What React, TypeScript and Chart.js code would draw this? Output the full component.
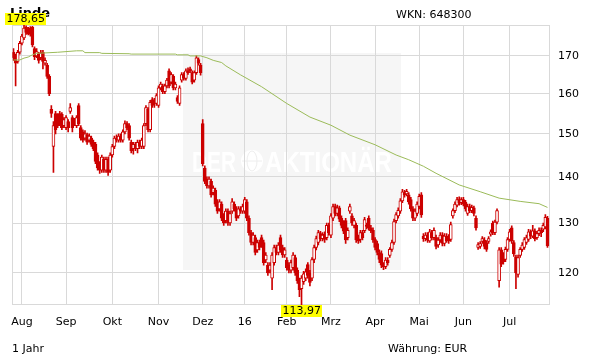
import React, { useEffect, useRef } from "react";
import { Chart, registerables } from "chart.js";
Chart.register(...registerables);

// Daily candles, Linde, late Jul 2015 - late Jul 2016 (index = trading day)
const opens = [
  171, 170, 168.5, 171, 173.5, 175, 178, 177.5, 177.8, 178,
  172, 170, 170.5, 169.5, 171, 168, 167.5, 164.5, 156, 147,
  155, 154.5, 155, 154.8, 152, 151.5, 153, 155.5, 154, 153,
  152, 157, 151.5, 150.5, 149, 149.8, 148.5, 149, 148, 147.5,
  145, 143, 141.5, 144, 141.5, 144, 141.5, 145, 147, 149,
  148.5, 149.5, 148.5, 150.5, 152.5, 152, 148, 146.5, 147.5, 146.5,
  148, 147, 147, 152.5, 156, 151, 158.5, 158, 157.5, 157,
  161.5, 162, 160.5, 162, 166, 163, 164.5, 161.5, 159, 157.5,
  163.5, 165, 164, 166, 166.5, 165.5, 163.5, 165.5, 169, 167.5,
  152.5, 142, 139.5, 138, 139, 136.5, 137, 134.5, 133, 134,
  131.5, 130.5, 132.5, 130, 132.5, 134, 133, 131.5, 133, 132.5,
  132.5, 134.5, 131, 128, 126, 127, 124.5, 126, 127, 126,
  122.5, 121.5, 120.5, 119, 122, 125, 124, 127, 125, 123.5,
  122.5, 121.5, 120.5, 121, 123, 120.5, 118.5, 117, 118.3, 119,
  121.6, 120, 119, 122.6, 125, 126, 127.8, 126.8, 127.7, 127,
  129.5, 127.5, 131, 133.5, 132, 133.2, 131, 130, 130.5, 127,
  132.5, 131.5, 129.5, 129.5, 127, 126.6, 128, 128.4, 129.5, 131,
  129, 128.5, 126.6, 125.8, 124, 123.8, 121.5, 121.2, 122.5, 123.4,
  124.6, 126, 130.5, 131.5, 132.5, 134.7, 136.5, 136.2, 136, 135,
  133, 131, 132, 133.5, 136, 127.3, 126.8, 127.5, 126.3, 128,
  127, 127, 125.5, 126.5, 127.5, 125.8, 127.3, 127.2, 126.6, 131.5,
  132.6, 133.8, 135, 134.3, 135, 134.4, 132, 133.5, 132.6, 133.2,
  131, 125, 125.2, 126.2, 126.5, 126, 126.2, 127.7, 130, 128,
  130.2, 118.5, 124.5, 123.5, 122.6, 124.6, 126.6, 129, 126, 123.1,
  119.7, 123.4, 124.6, 125, 126, 126.6, 128.2, 127.3, 128.4, 127,
  127.8, 128.5, 128.7, 129.2, 131,
];

const closes = [
  169.5, 168, 171, 173.5, 175.5, 177.8, 176.5, 176.2, 176, 173,
  169.8, 171.2, 168.8, 170.8, 168.5, 168.8, 164.5, 160, 155, 152,
  151, 152, 152.5, 151.5, 153.5, 154, 151.5, 156.5, 151.5, 152.5,
  154, 152.5, 149, 148.5, 150, 148, 149.5, 147.5, 146.5, 143.5,
  142, 141.5, 144.5, 141.5, 144, 141, 145, 147, 149, 148.5,
  149.5, 148.5, 150.5, 152.5, 151.5, 149, 146, 147.5, 146.5, 148,
  147, 148.5, 152, 156.5, 151, 157.8, 157, 157.5, 159.5, 161.5,
  162.5, 160.5, 162, 163.5, 162, 165, 161.5, 162.5, 158, 161.5,
  165, 164, 166, 165.5, 166, 163, 165.5, 169.5, 168, 165.5,
  143, 139, 138, 139.5, 136, 137.5, 134, 132.5, 134.5, 131,
  130, 132.5, 130, 132, 134.5, 133, 131, 133, 132.5, 133.5,
  135, 131, 128, 126, 127.5, 124, 126, 125, 125.5, 122,
  123.5, 120, 121.5, 123.5, 125, 124, 125.5, 124.5, 123.5, 124.5,
  121, 120.5, 122, 123.5, 120, 118.5, 116.8, 119, 119.8, 120.2,
  119.5, 118.2, 122.6, 125, 126.8, 128, 126.8, 127.5, 126.6, 129.5,
  128, 131.5, 133.5, 132, 133.2, 130.8, 129.5, 128.3, 126.5, 128.5,
  133.5, 130, 130.5, 126.5, 126.3, 128, 127, 130.7, 129.3, 129,
  128.4, 126.5, 125, 124, 122.6, 121.5, 121.2, 122.5, 122, 124.6,
  126, 130.3, 131.8, 132.7, 134.7, 136.7, 136, 136.8, 134.5, 133,
  131, 132.5, 134, 135.7, 131.7, 126.8, 127.5, 126.5, 128.2, 127,
  128.5, 125.2, 126.5, 127.5, 125.8, 127.3, 126.3, 126.3, 129.7, 132.6,
  134, 135, 134.2, 135, 134, 133, 133.5, 132.6, 133.3, 132,
  129, 125.6, 125.8, 126.8, 125.2, 124.6, 126.8, 128.2, 128, 130.2,
  132.6, 124.5, 121.7, 122.2, 124.6, 126.6, 128.2, 126.3, 123.7, 120,
  123, 124.6, 125.5, 126.6, 127, 128.2, 127.3, 128.4, 126.8, 127.8,
  128.5, 128, 129.5, 131.2, 125.3,
];

const highs = [
  172, 170.5, 171.5, 174, 176, 178.65, 178.4, 178, 178.2, 178.3,
  172.5, 172, 171, 171.5, 171.5, 169.5, 168, 165, 157, 153,
  155.5, 155, 155.5, 155.2, 154, 154.5, 153.5, 157.5, 154.5, 153.8,
  154.5, 157.5, 152, 151, 150.8, 150.2, 150, 149.5, 148.5, 148,
  145.5, 143.5, 145, 144.5, 144.5, 144.5, 145.5, 147.5, 149.5, 149.8,
  150, 150, 151, 153.2, 153, 152.5, 148.5, 148, 148, 148.5,
  148.5, 149, 152.5, 157, 156.5, 158.3, 159, 158.8, 160, 162,
  163, 162.5, 162.5, 164, 166.5, 165.5, 165, 163, 159.5, 162,
  165.5, 165.5, 166.5, 166.8, 167, 166, 166, 170, 169.5, 168,
  153.5, 142.5, 140, 140, 139.5, 138, 137.5, 135, 135, 134.5,
  132, 133, 133, 132.5, 135.2, 134.5, 133.5, 133.5, 133.5, 134,
  135.5, 135, 131.5, 128.5, 128, 127.5, 126.5, 126.5, 127.5, 126.5,
  124, 122, 122, 124, 125.5, 125.5, 126, 127.5, 125.5, 125,
  123, 122, 122.5, 124, 123.5, 121, 119, 119.5, 120.3, 120.8,
  122, 120.5, 123, 125.5, 127.3, 128.5, 128.3, 128, 128.2, 130,
  130, 132, 134, 134, 133.8, 133.6, 131.5, 130.5, 131, 129,
  134, 132, 131, 130, 127.5, 128.5, 128.5, 131.2, 130, 131.5,
  129.5, 129, 127, 126.3, 124.5, 124.3, 122, 123, 123, 125,
  126.5, 130.8, 132.2, 133.2, 135.2, 137.2, 137, 137.2, 136.5, 135.5,
  133.5, 133, 134.5, 136.2, 136.5, 127.8, 128, 128, 128.7, 128.5,
  129, 127.5, 127, 128, 128, 127.8, 127.8, 127.6, 130.2, 133,
  134.5, 135.5, 135.6, 135.4, 135.5, 134.8, 134, 134, 133.8, 133.6,
  131.5, 126, 126.2, 127.2, 127, 126.4, 127.2, 128.6, 130.4, 130.6,
  133, 125, 125, 124, 125.1, 127, 128.7, 129.4, 126.4, 123.5,
  123.5, 125, 126, 127, 127.5, 128.7, 128.6, 129.5, 128.8, 128.3,
  129, 129, 130, 131.8, 131.4,
];

const lows = [
  168.8, 162, 168, 170.5, 173, 174.5, 176, 175.8, 175.5, 172.5,
  169, 169.5, 168, 169, 166.5, 167.5, 164, 159.5, 154, 141,
  150, 151.5, 152, 151, 151.5, 151, 150.5, 155, 150.5, 152,
  151.5, 152, 148.5, 148, 148.5, 147.5, 148, 147, 146, 143,
  141.5, 140.8, 141, 141, 141, 140.3, 141, 144.5, 146.5, 148,
  148, 148, 148, 150, 151, 148.5, 145.5, 145.2, 146, 145.5,
  146.5, 146.5, 146.5, 152, 150.5, 150.5, 156.5, 156.5, 157, 156.5,
  161, 160, 160, 161.5, 161.5, 162.5, 161, 161, 157.5, 157,
  163, 163.5, 163.5, 165, 165.5, 162.5, 163, 165, 167.5, 164.8,
  142.5, 138.5, 137.5, 137.5, 135.5, 136, 133.5, 132, 132.5, 130.5,
  129.5, 130, 129.5, 129.5, 132, 132.5, 130.5, 131, 132, 132,
  132, 130.5, 127.5, 125.5, 125.5, 123.5, 124, 124.5, 125, 121.5,
  122, 119.5, 120, 116.8, 121.5, 123.5, 123.5, 124, 123, 123,
  120.5, 120, 120, 120.5, 119.5, 118, 115.5, 113.97, 117.8, 118.5,
  119, 117.5, 118.5, 122, 124.5, 125.5, 126.3, 126.3, 126, 126.5,
  127.5, 127, 130.5, 131.5, 131.5, 130.3, 129, 127.8, 125.8, 126.5,
  132, 129.5, 129, 126, 125.8, 126, 126.5, 128, 128.8, 128.5,
  128, 126, 124.5, 123.5, 122, 121, 120.6, 120.8, 121.5, 123,
  124.2, 125.6, 130, 131, 132, 134.3, 135.5, 135.8, 134, 132.5,
  130.5, 130.5, 131.5, 133, 131.2, 126.2, 126.3, 126, 126, 126.5,
  126.5, 124.7, 125, 126, 125.3, 125.3, 126, 125.8, 126.2, 131,
  132.2, 133.4, 133.8, 133.9, 133.6, 132.5, 131.6, 132.2, 132.2, 131.5,
  128.5, 124.6, 124.8, 125.8, 124.7, 124.2, 125.8, 127.3, 127.6, 127.6,
  129.8, 117.3, 121.2, 121.7, 122.2, 124.2, 126.2, 125.8, 123.2, 117,
  119.2, 123, 124.2, 124.6, 125.6, 126.2, 126.8, 127, 126.3, 126.6,
  127.4, 127.2, 128.2, 128.8, 125,
];

// 200-day moving average read at selected trading days: [index, value]
const maPoints: [number, number][] = [
  [0, 168.9], [3, 168.9], [5, 169.4], [7, 169.7], [9, 170.3], [11, 170.7],
  [21, 171], [30, 171.4], [33, 171.4], [34, 170.9], [41, 170.9], [42, 170.7],
  [55, 170.6], [56, 170.5], [77, 170.5], [78, 170.3], [83, 170.3], [84, 170],
  [89, 170], [92, 169.5], [95, 168.8], [99, 168.2], [101, 167.3], [108, 164.9],
  [118, 161.8], [130, 157.5], [141, 154.1], [151, 152.1], [160, 149.7],
  [172, 147.4], [182, 145], [188, 143.9], [195, 142.4], [201, 140.8],
  [212, 138.2], [222, 136.7], [231, 135.3], [241, 134.6], [250, 134.1], [254, 133.3],
];

const monthIdx = [4, 25, 47, 69, 90, 110, 130, 151, 172, 193, 214, 236];
const monthLabels = ["Aug", "Sep", "Okt", "Nov", "Dez", "16", "Feb", "Mrz", "Apr", "Mai", "Jun", "Jul"];
const yTicks = [120, 130, 140, 150, 160, 170];
const yMin = 113.97;
const yMax = 178.65;

const RED = "#cc0000";
const GRID = "#d9d9d9";
const FONT = '"DejaVu Sans", Verdana, sans-serif';

export default function App() {
  const ref = useRef<HTMLCanvasElement>(null);

  useEffect(() => {
    const canvas = ref.current;
    if (!canvas) return;
    const n = opens.length;
    const bodies = opens.map((o, i) => ({ x: i, y: [o, closes[i]] }));
    const wicks = opens.map((_, i) => ({ x: i, y: [lows[i], highs[i]] }));
    const bodyBg = opens.map((o, i) => (closes[i] < o ? RED : "#ffffff"));
    const ma = maPoints.map(([x, y]) => ({ x, y }));

    let hiI = 0, loI = 0;
    for (let i = 0; i < n; i++) {
      if (highs[i] > highs[hiI]) hiI = i;
      if (lows[i] < lows[loI]) loI = i;
    }

    const fmt = (v: number) => v.toFixed(2).replace(".", ",");

    const deco = {
      id: "deco",
      beforeDraw(chart: any) {
        const ctx = chart.ctx;
        ctx.save();
        ctx.fillStyle = "#ffffff";
        ctx.fillRect(0, 0, chart.width, chart.height);
        // watermark
        ctx.fillStyle = "#f6f6f6";
        ctx.fillRect(183, 53, 218, 217);
        ctx.fillStyle = "#ffffff";
        ctx.font = 'bold 30px "Liberation Sans", Arial, sans-serif';
        ctx.textBaseline = "alphabetic";
        ctx.textAlign = "left";
        ctx.fillText("DER", 192, 172, 44);
        ctx.fillText("AKTIONÄR", 265, 172, 127);
        ctx.beginPath();
        ctx.arc(252, 161, 11, 0, Math.PI * 2);
        ctx.fill();
        ctx.strokeStyle = "#eeeeee";
        ctx.lineWidth = 1;
        ctx.beginPath();
        ctx.ellipse(252, 161, 5, 10, 0, 0, Math.PI * 2);
        ctx.moveTo(242, 161);
        ctx.lineTo(262, 161);
        ctx.stroke();
        // texts
        ctx.fillStyle = "#000000";
        ctx.font = `bold 13px ${FONT}`;
        ctx.fillText("Linde", 10, 17);
        ctx.font = `11px ${FONT}`;
        ctx.fillText("WKN: 648300", 396, 18);
        ctx.fillText("1 Jahr", 12, 352);
        ctx.fillText("Währung: EUR", 388, 352);
        ctx.restore();
      },
      beforeDatasetsDraw(chart: any) {
        const { ctx, chartArea: a } = chart;
        ctx.save();
        ctx.strokeStyle = GRID;
        ctx.lineWidth = 1;
        ctx.strokeRect(Math.round(a.left) + 0.5, Math.round(a.top) + 0.5, Math.round(a.right - a.left) - 1, Math.round(a.bottom - a.top) - 1);
        ctx.restore();
      },
      afterDatasetsDraw(chart: any) {
        const ctx = chart.ctx;
        const xs = chart.scales.x;
        const a = chart.chartArea;
        ctx.save();
        ctx.font = `11px ${FONT}`;
        ctx.textBaseline = "middle";
        ctx.textAlign = "center";
        const label = (txt: string, cx: number, top: number) => {
          const w = ctx.measureText(txt).width + 3;
          let left = Math.max(5, cx - w / 2);
          ctx.fillStyle = "#ffff00";
          ctx.fillRect(Math.round(left), top, Math.round(w), 12);
          ctx.fillStyle = "#000000";
          ctx.fillText(txt, Math.round(left) + w / 2, top + 6.5);
        };
        label(fmt(highs[hiI]), xs.getPixelForValue(hiI), Math.round(a.top) - 12);
        label(fmt(lows[loI]), xs.getPixelForValue(loI), Math.round(a.bottom));
        ctx.restore();
      },
    };

    const chart = new Chart(canvas, {
      type: "bar",
      data: {
        datasets: [
          {
            type: "line",
            data: ma,
            borderColor: "#9bbb59",
            borderWidth: 1,
            pointRadius: 0,
            tension: 0,
            order: 0,
          } as any,
          {
            data: bodies,
            backgroundColor: bodyBg,
            borderColor: RED,
            borderWidth: 1,
            borderSkipped: false,
            barThickness: 3,
            grouped: false,
            order: 1,
          } as any,
          {
            data: wicks,
            backgroundColor: RED,
            borderWidth: 0,
            barThickness: 1,
            grouped: false,
            order: 2,
          } as any,
        ],
      },
      options: {
        responsive: false,
        animation: false,
        events: [],
        layout: { padding: { left: 10, top: 25, right: 0, bottom: 0 } },
        plugins: { legend: { display: false }, tooltip: { enabled: false } },
        scales: {
          x: {
            type: "linear",
            position: "bottom",
            min: -0.5,
            max: 255.2,
            offset: false,
            afterBuildTicks: (s: any) => {
              s.ticks = monthIdx.map((v) => ({ value: v }));
            },
            afterFit: (s: any) => {
              s.height = 59;
            },
            ticks: {
              autoSkip: false,
              maxRotation: 0,
              minRotation: 0,
              padding: 11,
              color: "#000",
              font: { family: FONT, size: 11 },
              callback: (_v: any, i: number) => monthLabels[i],
            },
            grid: { color: GRID, lineWidth: 1, drawTicks: false, offset: false },
            border: { display: false },
          },
          y: {
            type: "logarithmic",
            position: "right",
            min: yMin,
            max: yMax,
            afterBuildTicks: (s: any) => {
              s.ticks = yTicks.map((v) => ({ value: v }));
            },
            afterFit: (s: any) => {
              s.width = 61;
            },
            ticks: {
              padding: 8,
              color: "#000",
              font: { family: FONT, size: 11 },
              callback: (v: any) => String(v),
            },
            grid: { color: GRID, lineWidth: 1, drawTicks: false },
            border: { display: false },
          },
        },
      } as any,
      plugins: [deco],
    });
    return () => chart.destroy();
  }, []);

  return (
    <div style={{ position: "absolute", left: 0, top: 0, width: 611, height: 364, background: "#fff" }}>
      <canvas ref={ref} width={611} height={364} style={{ display: "block", width: 611, height: 364 }} />
    </div>
  );
}
